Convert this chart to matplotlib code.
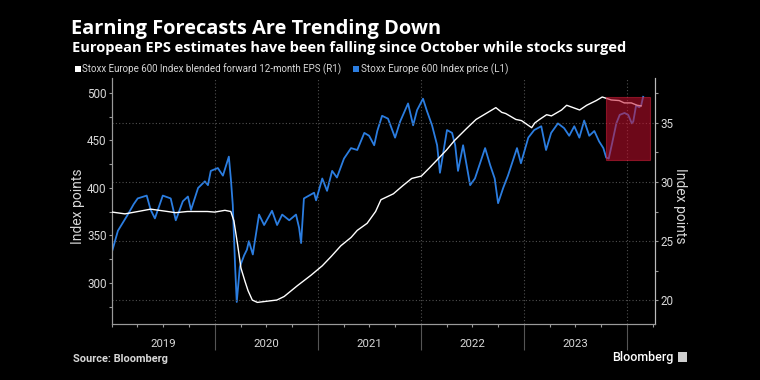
import matplotlib
matplotlib.use("Agg")
import matplotlib.pyplot as plt
import matplotlib.dates as mdates
from matplotlib.patches import Rectangle
from matplotlib.ticker import MultipleLocator
import pandas as pd

# ---------------- data ----------------
price_dates = [
    "2019-01-02", "2019-01-22", "2019-02-26", "2019-03-19", "2019-04-02", "2019-05-04",
    "2019-05-18", "2019-06-02", "2019-06-30", "2019-07-28", "2019-08-15", "2019-09-09",
    "2019-09-27", "2019-10-08", "2019-11-02", "2019-11-26", "2019-12-07", "2019-12-17",
    "2020-01-11", "2020-01-29", "2020-02-19", "2020-02-26", "2020-03-04", "2020-03-12",
    "2020-03-18", "2020-03-24", "2020-03-29", "2020-04-13", "2020-04-23", "2020-04-30",
    "2020-05-14", "2020-05-18", "2020-06-05", "2020-06-23", "2020-07-21", "2020-08-08",
    "2020-08-26", "2020-09-20", "2020-10-14", "2020-10-25", "2020-11-01", "2020-11-11",
    "2020-12-17", "2020-12-24", "2021-01-15", "2021-02-01", "2021-02-19", "2021-03-08",
    "2021-04-02", "2021-04-27", "2021-05-19", "2021-06-13", "2021-06-30", "2021-07-18",
    "2021-07-29", "2021-08-15", "2021-09-05", "2021-09-30", "2021-10-18", "2021-11-15",
    "2021-12-03", "2021-12-17", "2022-01-07", "2022-01-21", "2022-02-08", "2022-02-26",
    "2022-03-08", "2022-04-02", "2022-04-20", "2022-05-01", "2022-05-11", "2022-05-29",
    "2022-06-23", "2022-07-10", "2022-08-15", "2022-09-02", "2022-09-18", "2022-09-30",
    "2022-10-18", "2022-11-04", "2022-12-06", "2022-12-20", "2023-01-15", "2023-02-05",
    "2023-03-02", "2023-03-19", "2023-04-06", "2023-04-30", "2023-05-22", "2023-06-09",
    "2023-06-27", "2023-07-15", "2023-08-01", "2023-08-19", "2023-09-06", "2023-09-23",
    "2023-10-08", "2023-10-18", "2023-10-27", "2023-11-08", "2023-11-23", "2023-12-05",
    "2023-12-22", "2024-01-04", "2024-01-17", "2024-01-22", "2024-02-01", "2024-02-12",
    "2024-02-19", "2024-02-26",
]
price_values = [
    334, 355, 372, 383, 389, 392,
    377, 368, 392, 389, 366, 386,
    391, 377, 400, 407, 403, 418,
    421, 413, 433, 410, 382, 319,
    280, 300, 317, 329, 335, 344,
    330, 338, 372, 361, 376, 361,
    372, 366, 372, 358, 342, 389,
    395, 387, 410, 397, 418, 411,
    431, 442, 440, 458, 455, 445,
    460, 476, 473, 453, 470, 489,
    466, 482, 494, 481, 466, 445,
    416, 461, 458, 445, 418, 445,
    403, 410, 442, 424, 410, 384,
    400, 413, 442, 426, 453, 461,
    465, 440, 458, 468, 463, 455,
    465, 453, 471, 455, 460, 449,
    442, 432, 431, 447, 468, 477,
    479, 477, 468, 470, 487, 485,
    487, 496,
]

eps_dates = [
    "2019-01-02", "2019-02-16", "2019-04-03", "2019-05-18", "2019-07-17", "2019-08-14",
    "2019-09-25", "2019-12-05", "2019-12-31", "2020-02-05", "2020-02-26", "2020-03-08",
    "2020-03-21", "2020-04-02", "2020-04-16", "2020-04-27", "2020-05-12", "2020-05-30",
    "2020-07-03", "2020-08-07", "2020-09-02", "2020-10-18", "2020-12-06", "2021-01-15",
    "2021-02-16", "2021-03-22", "2021-04-27", "2021-05-19", "2021-06-23", "2021-07-23",
    "2021-08-11", "2021-09-24", "2021-10-28", "2021-11-28", "2022-01-01", "2022-01-30",
    "2022-02-27", "2022-03-31", "2022-04-28", "2022-06-09", "2022-07-14", "2022-08-18",
    "2022-09-22", "2022-10-13", "2022-10-27", "2022-12-02", "2022-12-22", "2023-01-27",
    "2023-02-07", "2023-02-24", "2023-03-21", "2023-04-07", "2023-05-13", "2023-05-31",
    "2023-07-16", "2023-08-10", "2023-09-13", "2023-10-04", "2023-11-05", "2023-12-03",
    "2023-12-21", "2024-01-15", "2024-02-05", "2024-02-19",
]
eps_values = [
    27.45, 27.3, 27.5, 27.7, 27.5, 27.4,
    27.5, 27.5, 27.45, 27.6, 27.5, 26.7,
    24.7, 22.7, 21.6, 20.8, 20.0, 19.8,
    19.9, 20.0, 20.3, 21.2, 22.1, 22.9,
    23.7, 24.6, 25.3, 25.9, 26.5, 27.5,
    28.5, 29.0, 29.7, 30.3, 30.5, 31.2,
    31.9, 32.7, 33.5, 34.5, 35.3, 35.8,
    36.3, 35.9, 35.8, 35.3, 35.2, 34.6,
    35.0, 35.3, 35.7, 35.6, 36.1, 36.5,
    36.1, 36.5, 36.9, 37.2, 36.95, 36.9,
    36.7, 36.7, 36.5, 36.45,
]

year_labels = ["2019", "2020", "2021", "2022", "2023"]
left_ticks = [300, 350, 400, 450, 500]
right_ticks = [20, 25, 30, 35]

title = "Earning Forecasts Are Trending Down"
subtitle = "European EPS estimates have been falling since October while stocks surged"
legend_eps = "Stoxx Europe 600 Index blended forward 12-month EPS (R1)"
legend_price = "Stoxx Europe 600 Index price (L1)"
axis_label = "Index points"

# highlight window
hl_start, hl_end = "2023-10-18", "2024-03-22"
hl_low, hl_high = 31.86, 37.2

# ---------------- style ----------------
FONT = "Roboto"
TITLE_FONT = "Open Sans"
BG = "black"
BLUE = "#2b7de0"
GRID = "#505050"
TICK = "#9a9a9a"
LABEL = "#d8d8d8"

plt.rcParams["font.family"] = [FONT, "DejaVu Sans"]

fig = plt.figure(figsize=(7.6, 3.8), dpi=100, facecolor=BG)
renderer = fig.canvas.get_renderer()


def fit_text(x_px, y_px, s, width_px, **kw):
    """Place text at pixel position and scale its size to a target pixel width."""
    t = fig.text(x_px / 760, 1 - y_px / 380, s, ha="left", va="baseline", **kw)
    w = t.get_window_extent(renderer=renderer).width
    t.set_fontsize(t.get_fontsize() * width_px / w)
    return t


ax = fig.add_axes([112 / 760, 1 - 324 / 380, (655 - 112) / 760, (324 - 78) / 380])
ax.set_facecolor(BG)
ax2 = ax.twinx()

pdates = pd.to_datetime(price_dates)
edates = pd.to_datetime(eps_dates)

ax.plot(pdates, price_values, color=BLUE, lw=1.3, zorder=3)
ax2.plot(edates, eps_values, color="white", lw=1.0, zorder=3)

ax.set_xlim(pd.Timestamp("2019-01-01"), pd.Timestamp("2024-04-08"))
ax.set_ylim(256.8, 515.8)
ax2.set_ylim(17.97, 38.81)

# highlight rectangle
x0 = mdates.date2num(pd.Timestamp(hl_start))
x1 = mdates.date2num(pd.Timestamp(hl_end))
ax2.add_patch(Rectangle((x0, hl_low), x1 - x0, hl_high - hl_low,
                        facecolor="#c8102e", alpha=0.55, edgecolor="#d0203a",
                        lw=0.8, zorder=5))

# x axis
year_starts = [pd.Timestamp(f"{int(y) + 1}-01-01") for y in year_labels]
ax.set_xticks(year_starts)
ax.set_xticklabels([])
quarters = pd.date_range("2019-01-01", "2024-04-01", freq="QS")
ax.set_xticks(quarters, minor=True)
ax.tick_params(axis="x", which="major", length=19, width=0.8, color="#555555", direction="out")
ax.tick_params(axis="x", which="minor", length=2.5, width=0.8, color=TICK, direction="out")
ax.xaxis.grid(True, which="major", color=GRID, ls=(0, (1, 2)), lw=0.8)
for y in year_labels:
    mid = pd.Timestamp(f"{y}-07-02")
    ax.text(mid, -0.08, y, transform=ax.get_xaxis_transform(), ha="center", va="center",
            color=LABEL, fontsize=8.2)

# left y axis
ax.set_yticks(left_ticks)
ax.yaxis.set_minor_locator(MultipleLocator(25))
ax.tick_params(axis="y", which="both", length=2.5, width=0.8, color=TICK, labelcolor=LABEL,
               labelsize=8.4, pad=1.5)
ax.set_ylabel(axis_label, color=LABEL, fontsize=10, va="center")
ax.yaxis.set_label_coords(-0.0626, 0.48)

# right y axis
ax2.set_yticks(right_ticks)
ax2.yaxis.set_minor_locator(MultipleLocator(2.5))
ax2.tick_params(axis="y", which="both", length=2.5, width=0.8, color=TICK, labelcolor=LABEL,
                labelsize=8.4, pad=1.5)
ax2.set_ylabel(axis_label, color=LABEL, fontsize=10, rotation=270, va="center")
ax2.yaxis.set_label_coords(1.046, 0.48)
ax2.yaxis.grid(True, which="major", color=GRID, ls=(0, (1, 2)), lw=0.8)
ax2.set_axisbelow(True)

for a in (ax, ax2):
    a.spines["top"].set_visible(False)
    a.spines["left"].set_color(TICK)
    a.spines["right"].set_color("#bbbbbb")
    a.spines["bottom"].set_color(TICK)
    a.spines["left"].set_linewidth(0.8)
    a.spines["right"].set_linewidth(0.8)
    a.spines["bottom"].set_linewidth(0.8)

# titles
fit_text(71, 34, title, 369, color="white", fontsize=13, fontweight="bold", family=TITLE_FONT)
fit_text(72, 52, subtitle, 555, color="white", fontsize=10.5, fontweight="bold", family=TITLE_FONT)

# legend
fig.patches.append(Rectangle((75 / 760, 1 - 72 / 380), 6 / 760, 6.5 / 380,
                             transform=fig.transFigure, facecolor="white", edgecolor="none"))
fit_text(82, 72.3, legend_eps, 261, color=LABEL, fontsize=7.3)
fig.patches.append(Rectangle((353 / 760, 1 - 72 / 380), 6 / 760, 6.5 / 380,
                             transform=fig.transFigure, facecolor=BLUE, edgecolor="none"))
fit_text(361, 72.3, legend_price, 147, color=LABEL, fontsize=7.3)

# footer
fit_text(73, 361.5, "Source: Bloomberg", 95, color=LABEL, fontsize=7.2, fontweight="bold")
fit_text(612, 361.5, "Bloomberg", 61, color="white", fontsize=9.2, fontweight="medium")
fig.patches.append(Rectangle((678 / 760, 1 - 362 / 380), 9 / 760, 10 / 380,
                             transform=fig.transFigure, facecolor="#cfcfcf", edgecolor="none"))

fig.savefig("out.png", dpi=100, facecolor=BG)
